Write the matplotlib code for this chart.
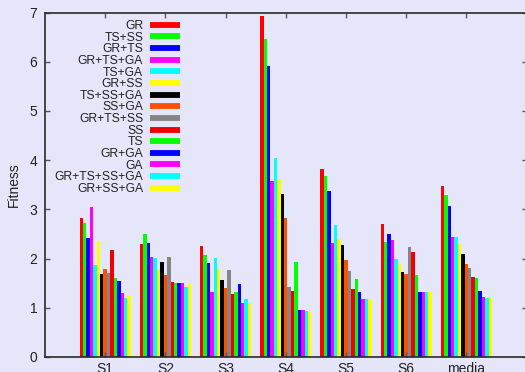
import matplotlib
matplotlib.use("Agg")
import matplotlib.pyplot as plt
from matplotlib.lines import Line2D
import numpy as np

plt.rcParams['font.family'] = ['Liberation Sans', 'DejaVu Sans']

groups = ["S1", "S2", "S3", "S4", "S5", "S6", "media"]
series = ["GR", "TS+SS", "GR+TS", "GR+TS+GA", "TS+GA", "GR+SS", "TS+SS+GA",
          "SS+GA", "GR+TS+SS", "SS", "TS", "GR+GA", "GA", "GR+TS+SS+GA", "GR+SS+GA"]
colors = ["#ff0000", "#00ff00", "#0000ff", "#ff00ff", "#00ffff", "#ffff00", "#000000",
          "#ff4f00", "#858585", "#f00000", "#00ff00", "#0000ff", "#ff00ff", "#00ffff", "#ffff00"]

# one row per series, one value per group (S1..S6, media)
values = [
    [2.83, 2.30, 2.26, 6.92, 3.82, 2.70, 3.48],  # GR
    [2.72, 2.50, 2.07, 6.47, 3.68, 2.34, 3.30],  # TS+SS
    [2.41, 2.32, 1.91, 5.92, 3.38, 2.50, 3.07],  # GR+TS
    [3.05, 2.03, 1.32, 3.58, 2.32, 2.38, 2.44],  # GR+TS+GA
    [1.87, 2.01, 2.01, 4.05, 2.68, 1.99, 2.44],  # TS+GA
    [2.35, 1.78, 1.79, 3.61, 2.40, 1.90, 2.30],  # GR+SS
    [1.69, 1.94, 1.56, 3.32, 2.28, 1.73, 2.10],  # TS+SS+GA
    [1.79, 1.66, 1.40, 2.83, 1.97, 1.69, 1.89],  # SS+GA
    [1.71, 2.03, 1.77, 1.42, 1.75, 2.24, 1.81],  # GR+TS+SS
    [2.18, 1.52, 1.28, 1.34, 1.38, 2.13, 1.62],  # SS
    [1.60, 1.50, 1.32, 1.94, 1.58, 1.67, 1.60],  # TS
    [1.54, 1.50, 1.48, 0.95, 1.32, 1.32, 1.34],  # GR+GA
    [1.30, 1.50, 1.10, 0.95, 1.18, 1.32, 1.22],  # GA
    [1.20, 1.42, 1.18, 0.93, 1.18, 1.32, 1.20],  # GR+TS+SS+GA
    [1.24, 1.48, 1.09, 0.93, 1.18, 1.32, 1.21],  # GR+SS+GA
]

bg = "#e6e6fa"
fig = plt.figure(figsize=(5.25, 3.72), dpi=100, facecolor=bg)
ax = fig.add_axes([45 / 525, 1 - 357 / 372, 1.003 - 45 / 525, (357 - 12.5) / 372])
ax.set_facecolor(bg)

x = np.arange(1, len(groups) + 1)
n = len(series)
w = 0.85 / n
for i in range(n):
    ax.bar(x - 0.425 + w * (i + 0.5), values[i], width=w, color=colors[i], linewidth=0)

ax.set_xlim(0, 8)
ax.set_ylim(0, 7)
ax.set_xticks(x)
ax.set_xticklabels(groups)
ax.set_yticks(range(0, 8))
ax.set_ylabel("Fitness", fontsize=10, color="#222222", labelpad=6)

for s in ax.spines.values():
    s.set_color("#2a2a2a")
    s.set_linewidth(1.2)
ax.tick_params(axis='both', direction='in', length=3.5, width=1, color="#555555",
               labelsize=10, labelcolor="#222222", top=True, right=True)
ax.tick_params(axis='y', pad=5.5)
ax.tick_params(axis='x', pad=3.5)

handles = [Line2D([], [], color=c, lw=4.2, solid_capstyle='butt') for c in colors]
ax.legend(handles, series, loc='upper right', bbox_to_anchor=(180 / 525, 1 - 20 / 372),
          bbox_transform=fig.transFigure, frameon=False, markerfirst=False,
          fontsize=8.7, labelspacing=-0.03, handlelength=2.5, handletextpad=0.55,
          borderpad=0, borderaxespad=0, labelcolor="#222222")

fig.savefig("out.png", dpi=100, facecolor=bg)
